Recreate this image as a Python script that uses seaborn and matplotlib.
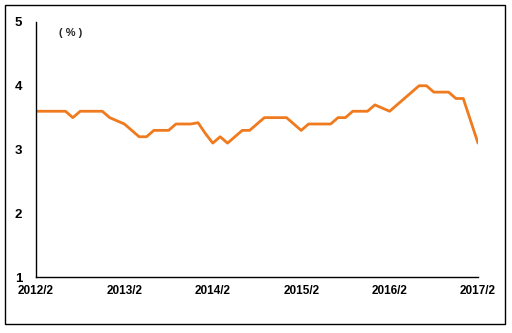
import matplotlib
matplotlib.use("Agg")
import matplotlib.pyplot as plt
import seaborn as sns
import pandas as pd
from matplotlib.patches import Rectangle

# Monthly values, 2012/2 .. 2017/2
months = list(range(61))
rate = [3.6, 3.6, 3.6, 3.6, 3.6, 3.5, 3.6, 3.6, 3.6, 3.6,
        3.5, 3.45, 3.4, 3.3, 3.2, 3.2, 3.3, 3.3, 3.3, 3.4,
        3.4, 3.4, 3.42, 3.25, 3.1, 3.2, 3.1, 3.2, 3.3, 3.3,
        3.4, 3.5, 3.5, 3.5, 3.5, 3.4, 3.3, 3.4, 3.4, 3.4,
        3.4, 3.5, 3.5, 3.6, 3.6, 3.6, 3.7, 3.65, 3.6, 3.7,
        3.8, 3.9, 4.0, 4.0, 3.9, 3.9, 3.9, 3.8, 3.8, 3.45,
        3.1]
tick_pos = [0, 12, 24, 36, 48, 60]
tick_labels = ["2012/2", "2013/2", "2014/2", "2015/2", "2016/2", "2017/2"]
y_ticks = [1, 2, 3, 4, 5]

df = pd.DataFrame({"month": months, "rate": rate})

sns.set_style("white")
plt.rcParams['font.family'] = ['Liberation Sans', 'DejaVu Sans']

fig = plt.figure(figsize=(5.12, 3.33), dpi=100)
ax = fig.add_axes([36/512, 1-277/333, (478-36)/512, (277-22)/333])

sns.lineplot(data=df, x="month", y="rate", ax=ax, color="#F07A1E", linewidth=2.0,
             solid_joinstyle="round", solid_capstyle="round")

ax.set_xlim(0, 60)
ax.set_ylim(1, 5)
ax.set_xticks(tick_pos)
ax.set_xticklabels(tick_labels, fontsize=8.5, fontweight="bold")
ax.set_yticks(y_ticks)
ax.set_yticklabels([str(v) for v in y_ticks], fontsize=9.5, fontweight="bold")
ax.tick_params(axis="x", direction="in", length=4, width=0.8, pad=6, colors="black")
ax.tick_params(axis="y", direction="in", length=3, width=0.8, pad=10, colors="black")
ax.set_xlabel("")
ax.set_ylabel("")
for s in ["top", "right"]:
    ax.spines[s].set_visible(False)
for s in ["left", "bottom"]:
    ax.spines[s].set_color("black")
    ax.spines[s].set_linewidth(1.0)

ax.text(0.052, 0.955, "( % )", transform=ax.transAxes, fontsize=8, fontweight="bold",
        ha="left", va="center")

fig.patches.append(Rectangle((5/512, 1-324/333), 500/512, 319/333,
                             transform=fig.transFigure, fill=False,
                             edgecolor="black", linewidth=1.0))

fig.savefig("out.png", dpi=100)
